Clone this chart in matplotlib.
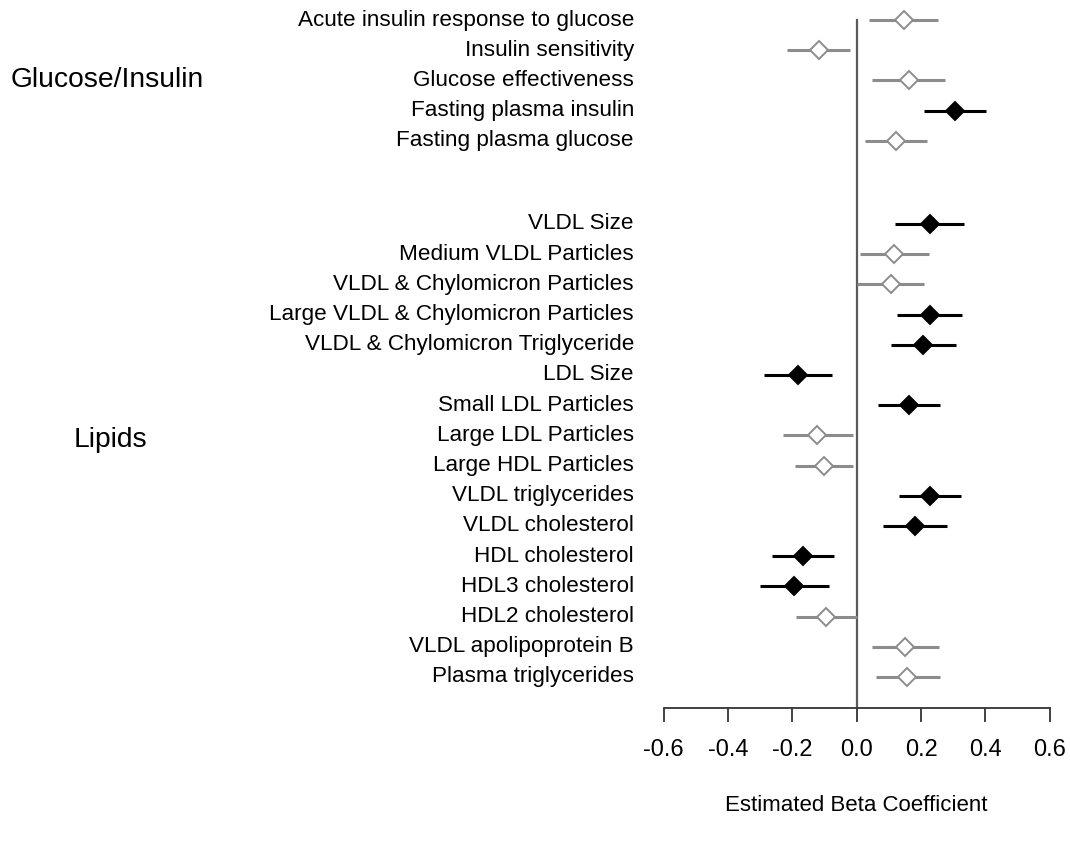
# forest plot of estimated beta coefficients

import numpy as np
import matplotlib
matplotlib.use("Agg")
import matplotlib.pyplot as plt
from matplotlib.transforms import blended_transform_factory

plt.rcParams["font.family"] = ["Liberation Sans", "DejaVu Sans"]

# --- Data ---
glucose_labels = ["Acute insulin response to glucose", "Insulin sensitivity",
                  "Glucose effectiveness", "Fasting plasma insulin",
                  "Fasting plasma glucose"]
glucose_est = [0.148, -0.118, 0.162, 0.307, 0.121]
glucose_lo = [0.039, -0.216, 0.049, 0.209, 0.025]
glucose_hi = [0.254, -0.022, 0.274, 0.403, 0.218]
glucose_sig = [False, False, False, True, False]

lipid_labels = ["VLDL Size", "Medium VLDL Particles", "VLDL & Chylomicron Particles",
                "Large VLDL & Chylomicron Particles", "VLDL & Chylomicron Triglyceride",
                "LDL Size", "Small LDL Particles", "Large LDL Particles",
                "Large HDL Particles", "VLDL triglycerides", "VLDL cholesterol",
                "HDL cholesterol", "HDL3 cholesterol", "HDL2 cholesterol",
                "VLDL apolipoprotein B", "Plasma triglycerides"]
lipid_est = [0.227, 0.117, 0.106, 0.227, 0.207, -0.182, 0.162, -0.122,
             -0.101, 0.227, 0.180, -0.168, -0.194, -0.095, 0.151, 0.157]
lipid_lo = [0.120, 0.010, 0.001, 0.126, 0.107, -0.288, 0.065, -0.230,
            -0.191, 0.131, 0.082, -0.263, -0.301, -0.188, 0.049, 0.059]
lipid_hi = [0.334, 0.224, 0.210, 0.328, 0.308, -0.077, 0.259, -0.012,
            -0.012, 0.324, 0.281, -0.072, -0.085, 0.0, 0.256, 0.258]
lipid_sig = [True, False, False, True, True, True, True, False,
             False, True, True, True, True, False, False, False]

xticks = [-0.6, -0.4, -0.2, 0.0, 0.2, 0.4, 0.6]

# --- Row positions (top row = 0, downward) ---
group_gap = 2.75
y_glu = np.arange(len(glucose_labels), dtype=float)
y_lip = y_glu[-1] + group_gap + np.arange(len(lipid_labels))

labels = glucose_labels + lipid_labels
est = glucose_est + lipid_est
lo = glucose_lo + lipid_lo
hi = glucose_hi + lipid_hi
sig = glucose_sig + lipid_sig
ys = np.concatenate([y_glu, y_lip])

GRAY = "#8c8c8c"

fig = plt.figure(figsize=(10.70, 8.46), dpi=100)
ax = fig.add_axes([0.6203, 0.1631, 0.3607, 0.831])

ax.axvline(0, ymin=0, ymax=(22.78 - 0) / (22.78 + 0.5), color="#5a5a5a", lw=1.6, zorder=1)

for y, e, l, h, s in zip(ys, est, lo, hi, sig):
    c = "black" if s else GRAY
    ax.plot([l, h], [y, y], color=c, lw=2.2, solid_capstyle="butt", zorder=2)
    ax.plot(e, y, marker="D", ms=9, color=c,
            mfc="black" if s else "white", mec=c, mew=1.4, zorder=3)

ax.set_xlim(-0.6, 0.6)
ax.set_ylim(22.78, -0.5)

for side in ["top", "right", "left"]:
    ax.spines[side].set_visible(False)
ax.spines["bottom"].set_color("#333333")
ax.spines["bottom"].set_linewidth(1.3)
ax.set_yticks([])
ax.set_xticks(xticks)
ax.set_xticklabels([f"{t:.1f}" for t in xticks], fontsize=17)
ax.tick_params(axis="x", length=10, width=1.3, color="#333333", pad=12)
ax.set_xlabel("Estimated Beta Coefficient", fontsize=16, labelpad=25)

# Row labels and group labels
trans = blended_transform_factory(fig.transFigure, ax.transData)
for y, lab in zip(ys, labels):
    ax.text(0.5925, y, lab, transform=trans, ha="right", va="center",
            fontsize=16.2, clip_on=False)

ax.text(0.1, y_glu[2], "Glucose/Insulin", transform=trans, ha="center",
        va="center", fontsize=20.3, clip_on=False)
ax.text(0.103, 13.9, "Lipids", transform=trans, ha="center",
        va="center", fontsize=20.3, clip_on=False)

fig.savefig("out.png", dpi=100)
